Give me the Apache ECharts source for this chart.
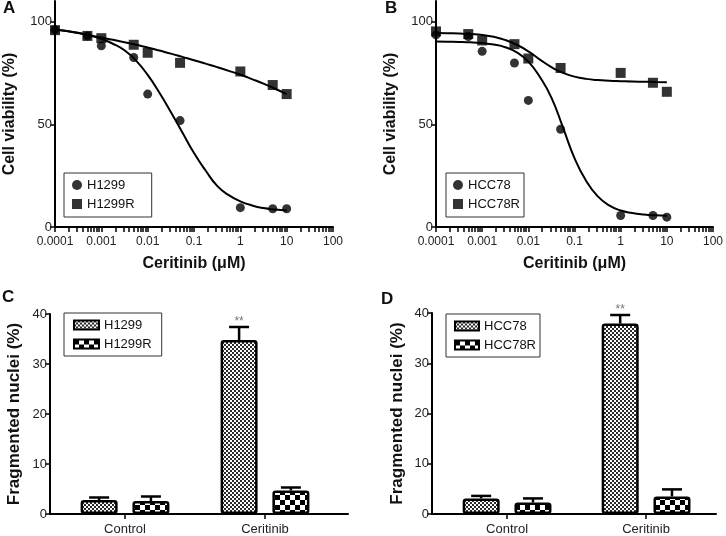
<!DOCTYPE html>
<html><head><meta charset="utf-8">
<script src="https://cdn.jsdelivr.net/npm/echarts@6/dist/echarts.min.js"></script>
<style>html,body{margin:0;padding:0;background:#fff}#c{width:726px;height:536px}</style>
</head><body><div id="c"></div>
<script>
// ---- Data ----
const doses = [0.0001, 0.0005, 0.001, 0.005, 0.01, 0.05, 1, 5, 10];
const h1299 = [96, 93, 88.2, 82.5, 64.7, 51.8, 9.4, 8.9, 8.9];
const h1299R = [95.8, 93, 91.9, 88.7, 84.8, 79.9, 75.7, 69.1, 64.7];
const hcc78 = [93.5, 92.7, 85.5, 79.8, 61.6, 47.6, 5.6, 5.6, 4.8];
const hcc78R = [95.2, 93.9, 90.8, 89, 82, 77.4, 75, 70.2, 65.8];

// fitted curves at quarter-decade steps
const curveX = [0.0001, 0.000178, 0.000316, 0.000562, 0.001, 0.00178, 0.00316, 0.00562, 0.01, 0.0178,
  0.0316, 0.0562, 0.1, 0.178, 0.316, 0.562, 1, 1.78, 3.16, 5.62, 10];
const h1299Fit = [96, 95.4, 94.5, 93.2, 91.5, 89.2, 86, 81, 74, 65.5, 56, 46, 36, 27.5, 20, 15.5, 12.5, 10.5, 9.2, 8.5, 8];
const h1299RFit = [96.3, 95.4, 94.4, 93.3, 92.2, 91.1, 89.9, 88.7, 87.4, 85.9, 84.4, 82.8, 81.2, 79.5, 77.8, 76, 74.1, 72, 69.8, 67.3, 64.7];
const hcc78Fit = [90.3, 90.2, 90.1, 89.9, 89.5, 88.8, 87.5, 85, 80.5, 73, 63, 48.5, 33.5, 22.5, 15, 10.5, 8, 6.8, 6.1, 5.7, 5.5];
const hcc78RFit = [94.4, 94.3, 94.2, 93.9, 93.5, 92.6, 91, 88.7, 85.5, 81.5, 77.8, 75, 73.2, 72.1, 71.5, 71.2, 71, 70.8, 70.7, 70.6, 70.5];

const xTickLabels = ['0.0001', '0.001', '0.01', '0.1', '1', '10', '100'];
const xMajorTicks = [0.0001, 0.001, 0.01, 0.1, 1, 10, 100];
const yViabTicks = [0, 50, 100];

const groups = ['Control', 'Ceritinib'];
const fragH1299 = [2.8, 34.8], errH1299 = [0.5, 2.6];
const fragH1299R = [2.6, 4.7], errH1299R = [0.9, 0.6];
const fragHCC78 = [3.1, 37.9], errHCC78 = [0.5, 1.7];
const fragHCC78R = [2.3, 3.5], errHCC78R = [0.8, 1.4];
const sigC = ['', '**'];
const sigD = ['', '**'];

// ---- helpers ----
const FONT = "'Liberation Sans', Arial, sans-serif";
const xAllTicks = [];
xMajorTicks.forEach((d, i) => {
  if (i === xMajorTicks.length - 1) { xAllTicks.push(d); return; }
  for (let k = 1; k <= 9; k++) xAllTicks.push(+(d * k).toPrecision(3));
});

function checker(cell, dark) {
  const c = document.createElement('canvas');
  c.width = c.height = cell * 2;
  const g = c.getContext('2d');
  g.fillStyle = '#fff'; g.fillRect(0, 0, cell * 2, cell * 2);
  g.fillStyle = dark; g.fillRect(0, 0, cell, cell); g.fillRect(cell, cell, cell, cell);
  return { image: c, repeat: 'repeat' };
}
const fine = checker(2, '#2a2a2a');
const coarse = checker(5, '#000');

const axisLine = { show: true, onZero: false, lineStyle: { color: '#000', width: 2 } };
const tick = { show: true, inside: false, length: 5, lineStyle: { color: '#000', width: 1.5 } };
const tickLbl = { color: '#222', fontFamily: FONT };

function logX(gi) {
  return {
    type: 'log', gridIndex: gi, min: 0.0001, max: 100, logBase: 10,
    name: 'Ceritinib (\u03bcM)', nameLocation: 'middle', nameGap: 29,
    nameTextStyle: { fontFamily: FONT, fontWeight: 'bold', fontSize: 16, color: '#111' },
    axisLine, splitLine: { show: false }, minorTick: { show: false },
    axisTick: Object.assign({}, tick, { customValues: xAllTicks }),
    axisLabel: Object.assign({}, tickLbl, {
      fontSize: 12, margin: 9, customValues: xMajorTicks,
      formatter: v => xTickLabels[Math.round(Math.log10(v)) + 4]
    })
  };
}
function viabY(gi) {
  return {
    type: 'value', gridIndex: gi, min: 0, max: 110,
    name: 'Cell viability (%)', nameLocation: 'middle', nameGap: 37,
    nameTextStyle: { fontFamily: FONT, fontWeight: 'bold', fontSize: 16, color: '#111' },
    axisLine, splitLine: { show: false },
    axisTick: Object.assign({}, tick, { customValues: yViabTicks }),
    axisLabel: Object.assign({}, tickLbl, { fontSize: 13, margin: 3, customValues: yViabTicks })
  };
}
function catX(gi, min, max) {
  return {
    type: 'value', gridIndex: gi, min, max,
    axisLine, splitLine: { show: false },
    axisTick: Object.assign({}, tick, { customValues: [1, 2] }),
    axisLabel: Object.assign({}, tickLbl, {
      fontSize: 13, margin: 9, customValues: [1, 2],
      formatter: v => groups[Math.round(v) - 1]
    })
  };
}
function fragY(gi, gap) {
  return {
    type: 'value', gridIndex: gi, min: 0, max: 40, interval: 10,
    name: 'Fragmented nuclei (%)', nameLocation: 'middle', nameGap: gap,
    nameTextStyle: { fontFamily: FONT, fontWeight: 'bold', fontSize: 17, color: '#111' },
    axisLine, splitLine: { show: false },
    axisTick: tick,
    axisLabel: Object.assign({}, tickLbl, { fontSize: 13, margin: 3 })
  };
}

function pts(xs, ys) { return xs.map((x, i) => [x, ys[i]]); }
function scatter(name, gi, ys, symbol, size) {
  return { type: 'scatter', name, xAxisIndex: gi, yAxisIndex: gi, data: pts(doses, ys),
    symbol, symbolSize: size, itemStyle: { color: '#000' }, z: symbol === 'rect' ? 4 : 3, silent: true };
}
function fit(gi, ys) {
  return { type: 'line', xAxisIndex: gi, yAxisIndex: gi, data: pts(curveX, ys), smooth: 0.5,
    showSymbol: false, symbol: 'none', lineStyle: { color: '#000', width: 2 }, z: 2, silent: true };
}
const BW = 37, GAP = 0.4;
const OFF = (BW + BW * GAP) / 2;
function bar(name, gi, vals, color) {
  return { type: 'bar', name, xAxisIndex: gi, yAxisIndex: gi, data: vals.map((v, i) => [i + 1, v]),
    barWidth: BW, barGap: (GAP * 100) + '%',
    itemStyle: { color, borderColor: '#000', borderWidth: 2.5, borderRadius: 2 }, z: 3, silent: true };
}
function errBars(gi, means, errs, offset, sig) {
  return {
    type: 'custom', xAxisIndex: gi, yAxisIndex: gi, silent: true, z: 2,
    encode: { x: 0, y: 1 },
    data: means.map((m, i) => [i + 1, m, errs[i]]),
    renderItem(params, api) {
      const x = api.value(0), m = api.value(1), e = api.value(2);
      const p0 = api.coord([x, m]), p1 = api.coord([x, m + e]);
      const cx = p0[0] + offset;
      const children = [
        { type: 'line', shape: { x1: cx, y1: p0[1], x2: cx, y2: p1[1] }, style: { stroke: '#000', lineWidth: 2.5 } },
        { type: 'line', shape: { x1: cx - 10, y1: p1[1], x2: cx + 10, y2: p1[1] }, style: { stroke: '#000', lineWidth: 2.5 } }
      ];
      const s = sig && sig[params.dataIndex];
      if (s) children.push({ type: 'text', style: { text: s, x: cx, y: p1[1] - 5, align: 'center',
        verticalAlign: 'middle', fill: '#777', font: '12px ' + FONT } });
      return { type: 'group', children };
    }
  };
}
function legendBox(left, top, pad, iw, ih, items) {
  return {
    orient: 'vertical', left, top, padding: pad, itemGap: 5, itemWidth: iw, itemHeight: ih,
    borderColor: '#333', borderWidth: 1, selectedMode: false,
    formatter: n => n.trim(),
    textStyle: { fontFamily: FONT, fontSize: 13, lineHeight: 14, color: '#111' },
    data: items
  };
}
function panelTitle(t, left, top) {
  return { text: t, left, top, padding: 0, textStyle: { fontFamily: FONT, fontWeight: 'bold', fontSize: 17, color: '#111' } };
}

const chart = echarts.init(document.getElementById('c'), null, { renderer: 'canvas' });
chart.setOption({
  animation: false,
  backgroundColor: '#fff',
  title: [panelTitle('A', 3, 0), panelTitle('B', 385, 0), panelTitle('C', 2, 289), panelTitle('D', 381, 291)],
  grid: [
    { left: 55, top: 1, width: 278, height: 226 },
    { left: 436, top: 1, width: 279, height: 226 },
    { left: 50, top: 314, width: 298, height: 201 },
    { left: 432, top: 313, width: 284, height: 201 }
  ],
  xAxis: [logX(0), logX(1), catX(2, 0.464, 2.593), catX(3, 0.46, 2.503)],
  yAxis: [viabY(0), viabY(1), fragY(2, 27), fragY(3, 26)],
  legend: [
    legendBox(64, 173, [5, 17, 6, 8], 10, 10, [{ name: 'H1299', icon: 'circle' }, { name: 'H1299R', icon: 'rect' }]),
    legendBox(446, 173, [5, 4, 6, 7], 10, 10, [{ name: 'HCC78', icon: 'circle' }, { name: 'HCC78R', icon: 'rect' }]),
    legendBox(64, 313, [5, 10, 5, 9], 25, 9, [{ name: 'H1299 ', icon: 'rect' }, { name: 'H1299R ', icon: 'rect' }]),
    legendBox(446, 314, [5, 4, 5, 8], 24, 9, [{ name: 'HCC78 ', icon: 'rect' }, { name: 'HCC78R ', icon: 'rect' }])
  ],
  series: [
    fit(0, h1299Fit), fit(0, h1299RFit),
    scatter('H1299', 0, h1299, 'circle', 9), scatter('H1299R', 0, h1299R, 'rect', 10),
    fit(1, hcc78Fit), fit(1, hcc78RFit),
    scatter('HCC78', 1, hcc78, 'circle', 9), scatter('HCC78R', 1, hcc78R, 'rect', 10),
    errBars(2, fragH1299, errH1299, -OFF, sigC), errBars(2, fragH1299R, errH1299R, OFF, null),
    bar('H1299 ', 2, fragH1299, fine), bar('H1299R ', 2, fragH1299R, coarse),
    errBars(3, fragHCC78, errHCC78, -OFF, sigD), errBars(3, fragHCC78R, errHCC78R, OFF, null),
    bar('HCC78 ', 3, fragHCC78, fine), bar('HCC78R ', 3, fragHCC78R, coarse)
  ]
});
</script></body></html>
